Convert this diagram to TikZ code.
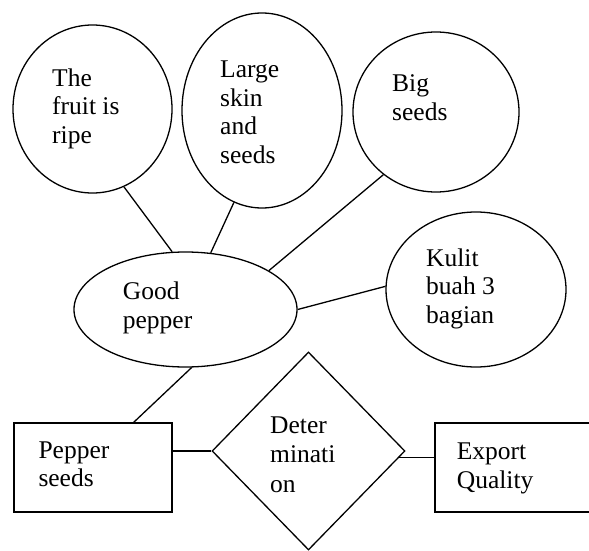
\documentclass[tikz,border=0pt]{standalone}
\usepackage{fontspec}
\setmainfont{Liberation Serif}
\usetikzlibrary{shapes.geometric}
\begin{document}
\begin{tikzpicture}[x=1pt,y=-1pt,
  shapeline/.style={draw, line width=1.3pt, inner sep=0pt},
  bubble/.style={shapeline, ellipse},
  box/.style={shapeline, rectangle},
  decision/.style={shapeline, diamond},
  % texts are placed by the baseline of their last line
  label text/.style={anchor=base west, align=left, inner sep=0pt,
    font=\fontsize{25.5}{28.5}\selectfont},
  link/.style={line width=1.3pt}]
\useasboundingbox (0,0) rectangle (589,551);
\clip (0,0) rectangle (589,551);

% attribute bubbles
\node[bubble, minimum width=159pt, minimum height=168pt] (ripe)  at (92.5,109) {};
\node[bubble, minimum width=160pt, minimum height=195pt] (skin)  at (262,110.5) {};
\node[bubble, minimum width=166pt, minimum height=160pt] (big)   at (436,112) {};
\node[bubble, minimum width=180pt, minimum height=155pt] (kulit) at (476,289.5) {};
\node[bubble, minimum width=223pt, minimum height=115pt] (good)  at (185.5,309.5) {};

% entities and relation
\node[box, minimum width=158pt, minimum height=89pt] (pseeds) at (93,467.5) {};
\node[decision, minimum width=193pt, minimum height=198pt] (det) at (308.5,451) {};
\node[box, minimum width=175pt, minimum height=89pt] (export) at (522.5,467.5) {};

% connectors
\draw[link] (ripe.-68) -- (good.103);
\draw[link] (skin.-107) -- (good.66);
\draw[link] (big.-130) -- (good.25);
\draw[link] (good.0) -- (kulit.178);
\draw[link] (good.-84) -- (pseeds.48);
\draw[link] (det.west) -- (det.west -| pseeds.east);
\draw[link] (det.-4.5) -- (det.-4.5 -| export.west);

% texts
\node[label text] (t-ripe)   at (52,143)     {The\\fruit is\\ripe};
\node[label text] (t-skin)   at (220,163)    {Large\\skin\\and\\seeds};
\node[label text] (t-big)    at (392,120)    {Big\\seeds};
\node[label text] (t-kulit)  at (426,323)    {Kulit\\buah 3\\bagian};
\node[label text] (t-good)   at (122.7,328)  {Good\\pepper};
\node[label text] (t-pseeds) at (38.3,486.7) {Pepper\\seeds};
\node[label text, font=\fontsize{25.5}{29.8}\selectfont] (t-det) at (270,492.7) {Deter\\minati\\on};
\node[label text] (t-export) at (456.7,488)  {Export\\Quality};
\end{tikzpicture}
\end{document}
